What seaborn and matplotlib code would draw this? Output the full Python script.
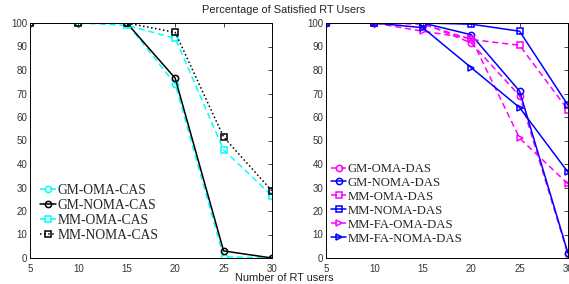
import numpy as np
import pandas as pd
import matplotlib
matplotlib.use("Agg")
import matplotlib.pyplot as plt
import seaborn as sns

# Data
users = [5, 10, 15, 20, 25, 30]

gm_oma_cas = [100, 100, 100, 74, 0.5, 0]
gm_noma_cas = [100, 100, 100, 76.5, 3, 0]
mm_oma_cas = [100, 100, 99, 93.5, 46, 26.5]
mm_noma_cas = [100, 100, 100, 96, 51.5, 28.5]

gm_oma_das = [100, 100, 100, 91.5, 69, 1.5]
gm_noma_das = [100, 100, 100, 95, 71, 2]
mm_oma_das = [100, 100, 99.5, 93, 90.5, 63]
mm_noma_das = [100, 100, 100, 99.5, 96.5, 65]
mm_fa_oma_das = [100, 100, 96.5, 93.5, 51, 31.5]
mm_fa_noma_das = [100, 100, 98, 81, 64, 36.5]

cas_series = [
    ("GM-OMA-CAS", gm_oma_cas, "cyan", (0, (4, 2.5)), "o"),
    ("GM-NOMA-CAS", gm_noma_cas, "black", "-", "o"),
    ("MM-OMA-CAS", mm_oma_cas, "cyan", (0, (4, 2.5)), "s"),
    ("MM-NOMA-CAS", mm_noma_cas, "black", ":", "s"),
]
das_series = [
    ("GM-OMA-DAS", gm_oma_das, "magenta", (0, (4, 2.5)), "o"),
    ("GM-NOMA-DAS", gm_noma_das, "blue", "-", "o"),
    ("MM-OMA-DAS", mm_oma_das, "magenta", (0, (4, 2.5)), "s"),
    ("MM-NOMA-DAS", mm_noma_das, "blue", "-", "s"),
    ("MM-FA-OMA-DAS", mm_fa_oma_das, "magenta", (0, (4, 2.5)), ">"),
    ("MM-FA-NOMA-DAS", mm_fa_noma_das, "blue", "-", ">"),
]

sns.set_style("white")
plt.rcParams['font.family'] = ['Liberation Sans', 'DejaVu Sans']

W, H = 569, 284
fig = plt.figure(figsize=(W / 100, H / 100), dpi=100)
ax1 = fig.add_axes([30 / W, (H - 258) / H, (272 - 30) / W, (258 - 23) / H])
ax2 = fig.add_axes([326 / W, (H - 258) / H, (568 - 326) / W, (258 - 23) / H])


def draw(ax, series, legend_anchor, legend_size):
    for name, vals, color, ls, mk in series:
        df = pd.DataFrame({"users": users, "pct": vals})
        sns.lineplot(data=df, x="users", y="pct", ax=ax, color=color,
                     linestyle=ls, marker=mk, markersize=4.5, markerfacecolor="none",
                     markeredgecolor=color, markeredgewidth=1.1, lw=1.1,
                     label=name)
    ax.set_xlim(5, 30)
    ax.set_ylim(0, 100)
    ax.set_xticks(users)
    ax.set_yticks(np.arange(0, 101, 10))
    ax.set_xlabel("")
    ax.set_ylabel("")
    ax.tick_params(direction="in", length=3, width=0.6, labelsize=7,
                   labelcolor="#333333", top=True, right=True, pad=2)
    ax.tick_params(axis="x", pad=4)
    for s in ax.spines.values():
        s.set_color("black")
        s.set_linewidth(0.7)
        s.set_visible(True)
    ax.legend(loc="upper left", bbox_to_anchor=legend_anchor, frameon=False,
              prop={"family": "Liberation Serif", "size": legend_size},
              handlelength=1.2, handletextpad=0.1, labelspacing=0.15,
              borderpad=0, borderaxespad=0)


draw(ax1, cas_series, (10 / 242, (258 - 184) / 235), 9.8)
draw(ax2, das_series, (5 / 242, (258 - 163) / 235), 9.2)

fig.text(284 / W, 1 - 10 / H, "Percentage of Satisfied RT Users",
         ha="center", va="center", fontsize=7.9, color="#222222")
fig.text(284 / W, 1 - 278 / H, "Number of RT users",
         ha="center", va="center", fontsize=7.9, color="#222222")

fig.savefig("out.png", dpi=100)
